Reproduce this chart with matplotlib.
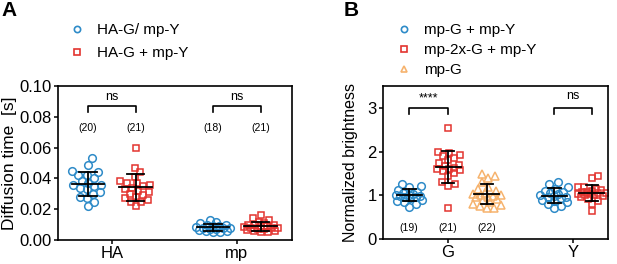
import numpy as np
import matplotlib
matplotlib.use("Agg")
import matplotlib.pyplot as plt
from matplotlib.lines import Line2D

plt.rcParams['font.family'] = ['Liberation Sans', 'DejaVu Sans']

# ---------------- data ----------------
A_groups = ["HA", "mp"]
A_series = ["HA-G/ mp-Y", "HA-G + mp-Y"]
A_ha_blue = [0.053, 0.049, 0.045, 0.044, 0.042, 0.042, 0.040, 0.038, 0.037, 0.036,
             0.036, 0.035, 0.034, 0.033, 0.031, 0.030, 0.028, 0.027, 0.025, 0.022]
A_ha_red = [0.060, 0.047, 0.044, 0.041, 0.038, 0.037, 0.037, 0.036, 0.035, 0.034, 0.033,
            0.032, 0.031, 0.030, 0.029, 0.028, 0.027, 0.026, 0.025, 0.025, 0.022]
A_mp_blue = [0.013, 0.012, 0.011, 0.010, 0.0095, 0.009, 0.0088, 0.0085, 0.008, 0.008,
             0.0075, 0.007, 0.007, 0.0065, 0.006, 0.006, 0.0055, 0.005]
A_mp_red = [0.016, 0.014, 0.013, 0.012, 0.011, 0.010, 0.010, 0.0095, 0.009, 0.009, 0.0085,
            0.008, 0.008, 0.0075, 0.007, 0.007, 0.0065, 0.006, 0.006, 0.0055, 0.005]
A_n_labels = ["(20)", "(21)", "(18)", "(21)"]
A_sig = ["ns", "ns"]

B_groups = ["G", "Y"]
B_series = ["mp-G + mp-Y", "mp-2x-G + mp-Y", "mp-G"]
B_g_blue = [1.25, 1.22, 1.18, 1.12, 1.08, 1.05, 1.03, 1.01, 1.0, 0.99, 0.98, 0.97, 0.95,
            0.93, 0.90, 0.88, 0.85, 0.80, 0.73]
B_g_red = [2.55, 2.0, 1.97, 1.93, 1.9, 1.85, 1.8, 1.75, 1.7, 1.67, 1.63, 1.6, 1.6, 1.57,
           1.55, 1.5, 1.45, 1.3, 1.25, 1.22, 0.70]
B_g_orange = [1.48, 1.43, 1.4, 1.3, 1.2, 1.15, 1.1, 1.05, 1.03, 1.0, 1.0, 0.98, 0.97, 0.95,
              0.92, 0.9, 0.85, 0.8, 0.78, 0.75, 0.72, 0.70]
B_y_blue = [1.3, 1.25, 1.2, 1.15, 1.1, 1.08, 1.05, 1.02, 1.0, 0.98, 0.97, 0.95, 0.93, 0.9,
            0.88, 0.85, 0.8, 0.75, 0.72]
B_y_red = [1.45, 1.4, 1.2, 1.18, 1.15, 1.12, 1.1, 1.08, 1.07, 1.06, 1.05, 1.04, 1.02, 1.0,
           1.0, 0.98, 0.95, 0.92, 0.88, 0.8, 0.65]
B_n_labels = ["(19)", "(21)", "(22)"]
B_sig = ["****", "ns"]

BLUE = "#2e8bc8"
RED = "#e3342f"
ORANGE = "#f6b36e"

fig = plt.figure(figsize=(6.17, 2.64), dpi=100)
axA = fig.add_axes([58/617, 24/264, 234/617, 154/264])
axB = fig.add_axes([383/617, 25/264, 225/617, 153/264])


def swarm(ax, x0, vals, diam_px, spread, maxw_px):
    """beeswarm offsets in pixel space, clamped to +-maxw_px; returns x data coords"""
    vals = np.asarray(vals, dtype=float)
    order = np.argsort(vals)
    ys = ax.transData.transform(np.column_stack([np.full(len(vals), x0), vals]))[:, 1]
    x0px = ax.transData.transform((x0, 0))[0]
    step = 1.0
    cands = [0.0]
    m = 1
    while m * step <= maxw_px:
        cands += [m * step, -m * step]
        m += 1
    placed = []
    xs_px = np.zeros(len(vals))
    mind = diam_px * spread
    for i in order:
        best_c, best_d = 0.0, -1.0
        chosen = None
        for c in cands:
            if placed:
                d = min(np.hypot(px - c, py - ys[i]) for (px, py) in placed)
            else:
                d = 1e9
            if d >= mind:
                chosen = c
                break
            if d > best_d + 0.5:
                best_d, best_c = d, c
        if chosen is None:
            chosen = best_c
        xs_px[i] = chosen
        placed.append((chosen, ys[i]))
    xs = ax.transData.inverted().transform(np.column_stack([x0px + xs_px, ys]))[:, 0]
    return xs


def draw_group(ax, x0, vals, color, marker, ms, half_mean, half_cap, maxw):
    xs = swarm(ax, x0, vals, ms * 100 / 72 + 1, 0.8, maxw)
    ax.plot(xs, vals, linestyle="none", marker=marker, ms=ms, mfc="none", mec=color,
            mew=1.1, zorder=2)
    m = np.mean(vals)
    s = np.std(vals, ddof=1)
    ax.plot([x0 - half_mean, x0 + half_mean], [m, m], color="black", lw=1.3, zorder=3)
    ax.plot([x0, x0], [m - s, m + s], color="black", lw=1.3, zorder=3)
    for yy in (m - s, m + s):
        ax.plot([x0 - half_cap, x0 + half_cap], [yy, yy], color="black", lw=1.3, zorder=3)


def style(ax):
    for sp in ax.spines.values():
        sp.set_linewidth(1.2)
    ax.tick_params(axis="both", direction="out", length=3, width=1.1, labelsize=12,
                   top=False, right=False, pad=1.5)


def bracket(ax, x1, x2, y, drop, text, ty, fs):
    ax.plot([x1, x1, x2, x2], [y - drop, y, y, y - drop], color="black", lw=1.2)
    ax.text((x1 + x2) / 2, ty, text, ha="center", va="center", fontsize=fs)

# ---------------- panel A ----------------
axA.set_xlim(-0.43, 1.44)
axA.set_ylim(0, 0.10)
style(axA)
axA.set_xticks([0, 1])
axA.set_xticklabels(A_groups)
axA.set_yticks(np.arange(0, 0.101, 0.02))
axA.set_yticklabels([f"{v:.2f}" for v in np.arange(0, 0.101, 0.02)])
axA.set_ylabel("Diffusion time  [s]", fontsize=12.5, labelpad=2)
offA = 0.19
A_data = [(0, A_ha_blue, A_ha_red, 18), (1, A_mp_blue, A_mp_red, 17)]
for gi, (g, vb, vr, mw) in enumerate(A_data):
    draw_group(axA, g - offA, vb, BLUE, "o", 5.5, 0.13, 0.07, mw)
    draw_group(axA, g + offA, vr, RED, "s", 5.0, 0.13, 0.07, mw)
    bracket(axA, g - offA, g + offA, 0.087, 0.004, A_sig[gi], 0.093, 9)
    axA.text(g - offA, 0.073, A_n_labels[2 * gi], ha="center", va="center", fontsize=7.5)
    axA.text(g + offA, 0.073, A_n_labels[2 * gi + 1], ha="center", va="center", fontsize=7.5)

hA = [Line2D([], [], ls="none", marker="o", ms=4.5, mfc="none", mec=BLUE, mew=1.2),
      Line2D([], [], ls="none", marker="s", ms=4.5, mfc="none", mec=RED, mew=1.2)]
fig.legend(hA, A_series, loc="upper left", bbox_to_anchor=(68/617, 1 - 23/264),
           frameon=False, fontsize=11, handletextpad=0.7, labelspacing=0.6,
           handlelength=1.2, borderaxespad=0, borderpad=0)

# ---------------- panel B ----------------
axB.set_xlim(-0.52, 1.28)
axB.set_ylim(0, 3.5)
style(axB)
axB.set_xticks([0, 1])
axB.set_xticklabels(B_groups)
axB.set_yticks([0, 1, 2, 3])
axB.set_ylabel("Normalized brightness", fontsize=11.5, labelpad=7)
offG = 0.31
offY = 0.15
draw_group(axB, 0 - offG, B_g_blue, BLUE, "o", 5.5, 0.10, 0.05, 13)
draw_group(axB, 0, B_g_red, RED, "s", 5.0, 0.10, 0.05, 13)
draw_group(axB, 0 + offG, B_g_orange, ORANGE, "^", 5.5, 0.10, 0.05, 14)
draw_group(axB, 1 - offY, B_y_blue, BLUE, "o", 5.5, 0.10, 0.05, 14)
draw_group(axB, 1 + offY, B_y_red, RED, "s", 5.0, 0.10, 0.05, 14)
bracket(axB, -offG, 0, 3.0, 0.14, B_sig[0], 3.22, 9)
bracket(axB, 1 - offY, 1 + offY, 3.0, 0.14, B_sig[1], 3.27, 9)
for x, lab in zip([-offG, 0, offG], B_n_labels):
    axB.text(x, 0.25, lab, ha="center", va="center", fontsize=7.5)

hB = [Line2D([], [], ls="none", marker="o", ms=4.5, mfc="none", mec=BLUE, mew=1.2),
      Line2D([], [], ls="none", marker="s", ms=4.5, mfc="none", mec=RED, mew=1.2),
      Line2D([], [], ls="none", marker="^", ms=4.5, mfc="none", mec=ORANGE, mew=1.2)]
fig.legend(hB, B_series, loc="upper left", bbox_to_anchor=(395/617, 1 - 23/264),
           frameon=False, fontsize=11, handletextpad=0.7, labelspacing=0.4,
           handlelength=1.2, borderaxespad=0, borderpad=0)

fig.text(1/617, 1 - 1/264, "A", fontsize=15, fontweight="bold", ha="left", va="top")
fig.text(344/617, 1 - 1/264, "B", fontsize=15, fontweight="bold", ha="left", va="top")

fig.savefig("out.png", dpi=100)
